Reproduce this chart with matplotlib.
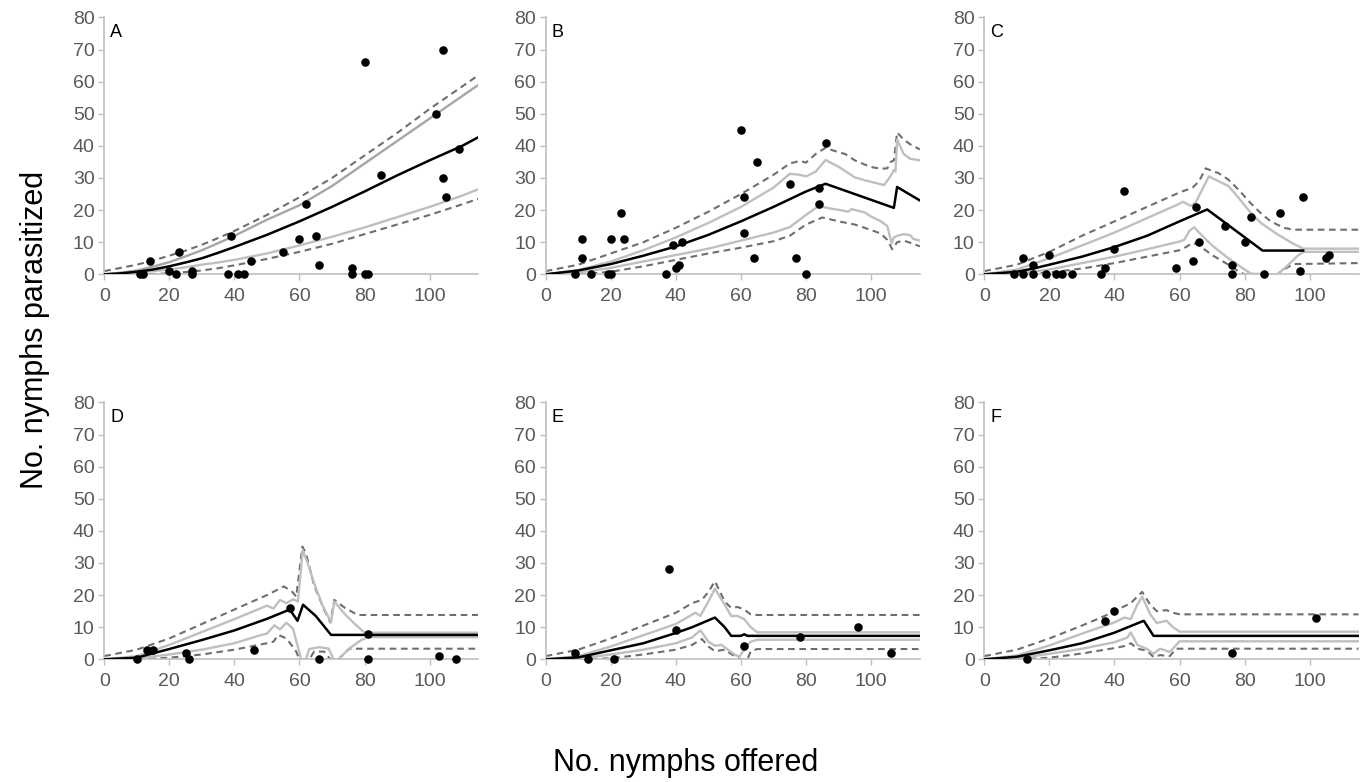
import matplotlib
matplotlib.use("Agg")
import matplotlib.pyplot as plt

# ---------------- Panel A ----------------
A_px = [11, 12, 14, 20, 22, 23, 27, 27, 38, 39, 41, 43, 45, 55, 60, 62, 65, 66, 76, 76, 80, 80, 81, 85, 102, 104, 104, 105, 109]
A_py = [0, 0, 4, 1, 0, 7, 1, 0, 0, 12, 0, 0, 4, 7, 11, 22, 12, 3, 2, 0, 66, 0, 0, 31, 50, 70, 30, 24, 39]
A_cx = [0, 5, 10, 15, 20, 25, 30, 35, 40, 50, 60, 70, 80, 90, 100, 110, 115]
A_mean = [0, 0.3, 0.8, 1.5, 2.5, 3.7, 5, 6.7, 8.5, 12.3, 16.5, 21, 25.8, 30.8, 35.5, 40, 42.7]
A_up_solid = [0, 0.5, 1.2, 2.4, 3.8, 5.6, 7.5, 9.7, 12, 17, 21.5, 27.5, 34.5, 41.5, 48.5, 55.5, 59]
A_lo_solid = [0, 0.2, 0.5, 1, 1.5, 2.2, 3, 3.7, 4.5, 6.5, 9, 11.7, 14.6, 17.8, 21, 24.5, 26.5]
A_up_dash = [1, 2, 3, 4.3, 5.8, 7.4, 9.2, 11.3, 13.5, 18.5, 24, 30, 37, 44, 51.5, 58.5, 62]
A_lo_dash = [0, 0, 0, 0.1, 0.3, 0.7, 1.2, 1.9, 2.8, 4.8, 7, 9.5, 12.5, 15.5, 18.5, 21.8, 23.5]

# ---------------- Panel B ----------------
B_px = [9, 11, 11, 14, 19, 20, 20, 23, 24, 37, 39, 40, 41, 42, 60, 61, 61, 64, 65, 75, 77, 80, 84, 84, 86]
B_py = [0, 11, 5, 0, 0, 0, 11, 19, 11, 0, 9, 2, 3, 10, 45, 24, 13, 5, 35, 28, 5, 0, 27, 22, 41]
B_mean_x = [0, 10, 20, 30, 40, 50, 60, 70, 80, 86, 107, 108, 115]
B_mean_y = [0, 1.2, 3.2, 5.8, 8.7, 12.3, 16.5, 21, 25.8, 28.2, 20.7, 27.2, 23]
B_us_x = [0, 10, 20, 30, 40, 50, 60, 70, 75, 78, 80, 83, 86, 90, 93, 95, 98, 100, 104, 106, 107, 107.5, 108, 110, 112, 115]
B_us_y = [0, 1.3, 4, 7.5, 11.5, 16, 21, 27, 31.3, 31, 30.5, 32, 35.6, 33.5, 31.5, 30.2, 29.3, 28.8, 27.8, 30.6, 32.5, 32, 42, 37.5, 36, 35.5]
B_ud_x = [0, 10, 20, 30, 40, 50, 60, 70, 75, 78, 80, 83, 86, 90, 92, 95, 98, 100, 103, 105, 106, 107, 108, 110, 112, 115]
B_ud_y = [1, 3, 6.5, 10, 14.5, 19.5, 25, 31, 34.5, 35.3, 34.8, 37.5, 39.4, 38, 37.5, 35.5, 34.2, 33.4, 32.9, 33, 35, 35.5, 44.2, 42, 40.5, 38.9]
B_ls_x = [0, 10, 20, 30, 40, 50, 60, 70, 75, 80, 83, 85, 88, 90, 93, 94, 96, 98, 100, 103, 105, 106.3, 107, 108, 110, 112, 113, 115]
B_ls_y = [0, 0.6, 2, 4, 6, 8, 10.5, 13, 14.7, 18.5, 20.7, 21, 20.4, 20.1, 19.5, 20.3, 19.8, 19.3, 18, 16.5, 15, 9.6, 11.5, 12, 12.5, 12.2, 11, 10.5]
B_ld_x = [0, 10, 20, 30, 40, 50, 60, 70, 75, 80, 85, 88, 90, 95, 100, 103, 105, 106.5, 108, 110, 113, 115]
B_ld_y = [0, 0, 0.8, 2.5, 4.5, 6.5, 8.3, 10.3, 12, 15.5, 17.7, 17, 16.5, 15.5, 13.8, 12.7, 10.7, 7.8, 10, 10.5, 9.5, 8.7]

# ---------------- Panel C ----------------
C_px = [9, 12, 12, 15, 15, 19, 20, 22, 24, 27, 36, 37, 40, 43, 59, 64, 65, 66, 74, 76, 76, 80, 82, 86, 91, 97, 98, 105, 106]
C_py = [0, 0, 5, 0, 3, 0, 6, 0, 0, 0, 0, 2, 8, 26, 2, 4, 21, 10, 15, 3, 0, 10, 18, 0, 19, 1, 24, 5, 6]
C_mean_x = [0, 10, 15, 20, 30, 40, 50, 60, 68.5, 85.5, 98]
C_mean_y = [0, 0.8, 1.8, 3, 5.5, 8.5, 12, 16.5, 20.2, 7.4, 7.4]
C_us_x = [0, 10, 20, 30, 40, 50, 60, 61, 63.5, 65, 67, 69, 72, 75, 78, 82, 85, 90, 95, 98, 115]
C_us_y = [0, 1.5, 5, 9, 13, 17.5, 22, 22.6, 21.3, 22.5, 26.5, 30.5, 29, 27.5, 24, 19, 16, 12.5, 9.5, 8, 8]
C_ud_x = [0, 10, 20, 30, 40, 50, 60, 64, 66, 68, 72, 75, 78, 82, 85, 88, 92, 95, 115]
C_ud_y = [1, 3, 7, 12, 16.5, 21, 25.5, 27, 29, 33, 31.5, 29.5, 26.5, 22, 19, 16.5, 14.5, 13.9, 13.9]
C_ls_x = [0, 10, 20, 30, 40, 50, 60, 61.5, 63, 64.5, 66, 70, 75, 80, 82, 88, 90, 93, 96, 98, 115]
C_ls_y = [0, 0.3, 1.5, 3.5, 5.5, 7.8, 10.2, 10.8, 13.5, 14.7, 13, 9, 5, 1.5, 0.2, 0, 0, 2.5, 5.5, 7, 7]
C_ld_x = [0, 10, 20, 30, 40, 50, 60, 62, 64, 66, 70, 75, 78, 80, 90, 92, 95, 115]
C_ld_y = [0, 0, 0.6, 1.8, 3.5, 5.5, 7.5, 8.5, 9.8, 9, 6, 3, 1, 0, 0, 1.5, 3.2, 3.5]

# ---------------- Panel D ----------------
D_px = [10, 13, 15, 25, 26, 46, 57, 66, 81, 81, 103, 108]
D_py = [0, 3, 3, 2, 0, 3, 16, 0, 8, 0, 1, 0]
D_mean_x = [0, 10, 14, 20, 30, 40, 50, 57, 59.4, 61.1, 65, 69.7, 115]
D_mean_y = [0, 0.5, 1.6, 3.2, 6, 9, 12.6, 15.5, 12, 17, 13.5, 7.6, 7.6]
D_us_x = [0, 10, 20, 30, 40, 50, 52, 54, 56, 58, 59.5, 61, 62.5, 64.5, 67, 69.7, 70.7, 74, 77, 80, 115]
D_us_y = [0, 1, 4.5, 8.5, 12.5, 16.7, 15.8, 18.5, 17.5, 18.7, 18, 34, 30, 23.7, 17, 11.5, 18, 14, 11, 8.3, 8.3]
D_ud_x = [0, 10, 20, 30, 40, 50, 55.2, 57.8, 59, 60.9, 62, 64.5, 67.6, 69.5, 70.7, 74, 77.9, 115]
D_ud_y = [1, 3, 6.5, 11, 15.5, 20, 22.7, 21, 19.5, 35.1, 33, 23, 15.4, 11.5, 18.5, 16, 13.8, 13.8]
D_ls_x = [0, 10, 20, 30, 40, 48, 50, 52.3, 54, 56, 58, 59.5, 60.5, 62, 63, 66, 69, 70.5, 72, 75.3, 79, 81, 115]
D_ls_y = [0, 0.3, 1.5, 3, 5, 7.5, 8, 10.6, 9.3, 11.4, 9.5, 4, 0, 0, 3.2, 3.8, 3.3, 0, 0, 3.4, 6, 6.9, 6.9]
D_ld_x = [0, 10, 20, 30, 40, 50, 52, 53.5, 56, 57.5, 59, 60, 63, 64.5, 67.6, 69.5, 72, 73.3, 75.3, 115]
D_ld_y = [0, 0, 0.5, 1.5, 3, 5, 5.5, 7.6, 6.5, 4.5, 2.4, 0, 0, 2.4, 2.4, 0, 0, 1.3, 3.3, 3.3]

# ---------------- Panel E ----------------
E_px = [9, 13, 21, 38, 40, 61, 78, 96, 106]
E_py = [2, 0, 0, 28, 9, 4, 7, 10, 2]
E_mean_x = [0, 10, 20, 30, 40, 45, 52, 55, 57, 60, 61, 62, 115]
E_mean_y = [0, 0.6, 2.8, 5, 8.2, 10, 13, 10, 7.3, 7.3, 7.8, 7.3, 7.3]
E_us_x = [0, 10, 20, 30, 40, 46, 47.5, 50, 52, 55, 57, 59, 61, 63, 65, 115]
E_us_y = [0, 1, 4, 7.5, 11, 14.5, 13.5, 18, 22, 17, 13.5, 13.5, 12.5, 10, 8.4, 8.4]
E_ud_x = [0, 10, 20, 30, 40, 45, 48, 50, 52, 55, 57, 59, 61, 63, 65, 115]
E_ud_y = [1, 3, 6.5, 10.5, 14.5, 17.5, 18.5, 21, 24.3, 18, 16, 16.3, 15.5, 14, 13.8, 13.8]
E_ls_x = [0, 10, 20, 30, 40, 45, 47.5, 50, 52, 54, 56, 58, 59.5, 61, 63, 65, 115]
E_ls_y = [0, 0.2, 1.5, 3, 5, 6.8, 9, 5.5, 4.2, 4.5, 3, 1.5, 0.8, 3, 5.5, 6.1, 6.1]
E_ld_x = [0, 10, 20, 30, 40, 45, 48, 50, 52, 55, 58, 60, 62, 63, 65, 115]
E_ld_y = [0, 0, 0.3, 1.5, 3, 4.5, 6.3, 4, 2.5, 3, 1, 0, 0, 2.5, 3.2, 3.2]

# ---------------- Panel F ----------------
F_px = [13, 37, 40, 76, 102]
F_py = [0, 12, 15, 2, 13]
F_mean_x = [0, 10, 20, 30, 40, 49, 52, 115]
F_mean_y = [0, 0.8, 2.8, 5, 8.3, 12, 7.3, 7.3]
F_us_x = [0, 10, 20, 30, 40, 43, 45, 47, 48.5, 51, 53, 56, 58, 60, 115]
F_us_y = [0, 1.2, 4.3, 8, 11.5, 13, 12.5, 17, 19.5, 14, 11.3, 12, 10, 8.6, 8.6]
F_ud_x = [0, 10, 20, 30, 37, 40, 45, 48.5, 51, 53, 56, 58, 60, 115]
F_ud_y = [1, 3, 6.5, 10.5, 13.5, 15, 17.5, 21, 17, 15, 15.3, 14.5, 14, 14]
F_ls_x = [0, 10, 20, 30, 40, 44, 45, 47, 50, 52, 54, 57, 60, 115]
F_ls_y = [0, 0.3, 1.7, 3.3, 5.3, 6.8, 8.4, 4.5, 3.2, 1.7, 3.3, 2.3, 5.6, 5.6]
F_ld_x = [0, 10, 20, 30, 40, 44, 45, 47, 50, 52, 54, 57, 59, 115]
F_ld_y = [0, 0, 0.5, 1.8, 3.5, 4.3, 5, 3.3, 2.7, 0.7, 1.3, 1, 3.3, 3.3]

panel_labels = ["A", "B", "C", "D", "E", "F"]
x_ticks = [0, 20, 40, 60, 80, 100]
y_ticks = [0, 10, 20, 30, 40, 50, 60, 70, 80]

panels = [
    dict(px=A_px, py=A_py, mean=(A_cx, A_mean), us=(A_cx, A_up_solid), ls=(A_cx, A_lo_solid),
         ud=(A_cx, A_up_dash), ld=(A_cx, A_lo_dash), us_color="#A6A6A6"),
    dict(px=B_px, py=B_py, mean=(B_mean_x, B_mean_y), us=(B_us_x, B_us_y), ls=(B_ls_x, B_ls_y),
         ud=(B_ud_x, B_ud_y), ld=(B_ld_x, B_ld_y)),
    dict(px=C_px, py=C_py, mean=(C_mean_x, C_mean_y), us=(C_us_x, C_us_y), ls=(C_ls_x, C_ls_y),
         ud=(C_ud_x, C_ud_y), ld=(C_ld_x, C_ld_y)),
    dict(px=D_px, py=D_py, mean=(D_mean_x, D_mean_y), us=(D_us_x, D_us_y), ls=(D_ls_x, D_ls_y),
         ud=(D_ud_x, D_ud_y), ld=(D_ld_x, D_ld_y)),
    dict(px=E_px, py=E_py, mean=(E_mean_x, E_mean_y), us=(E_us_x, E_us_y), ls=(E_ls_x, E_ls_y),
         ud=(E_ud_x, E_ud_y), ld=(E_ld_x, E_ld_y)),
    dict(px=F_px, py=F_py, mean=(F_mean_x, F_mean_y), us=(F_us_x, F_us_y), ls=(F_ls_x, F_ls_y),
         ud=(F_ud_x, F_ud_y), ld=(F_ld_x, F_ld_y)),
]

TICK_FONT = ["Liberation Sans Narrow", "Liberation Sans", "DejaVu Sans"]
MAIN_FONT = ["Liberation Sans", "DejaVu Sans"]
SPINE = "#BFBFBF"
LIGHT = "#BFBFBF"
DASH = "#6E6E6E"
TICKCOL = "#595959"

fig = plt.figure(figsize=(13.63, 7.82), dpi=100)

lefts = [0.0765, 0.4004, 0.7222]
bottoms = [0.6492, 0.1569]
W, H = 0.2745, 0.3285

for i, p in enumerate(panels):
    r, c = divmod(i, 3)
    ax = fig.add_axes([lefts[c], bottoms[r], W, H])
    ax.set_xlim(0, 115)
    ax.set_ylim(0, 80)
    ax.plot(*p["ud"], color=DASH, lw=1.5, dashes=(3.2, 2.2), zorder=2)
    ax.plot(*p["ld"], color=DASH, lw=1.5, dashes=(3.2, 2.2), zorder=2)
    ax.plot(*p["us"], color=p.get("us_color", LIGHT), lw=1.7, zorder=3)
    ax.plot(*p["ls"], color=LIGHT, lw=1.7, zorder=3)
    ax.plot(*p["mean"], color="black", lw=1.8, zorder=4)
    ax.scatter(p["px"], p["py"], s=38, color="black", zorder=5, clip_on=False, linewidths=0)

    for s in ["top", "right"]:
        ax.spines[s].set_visible(False)
    for s in ["left", "bottom"]:
        ax.spines[s].set_color(SPINE)
        ax.spines[s].set_linewidth(1.2)
    ax.set_xticks(x_ticks)
    ax.set_yticks(y_ticks)
    ax.tick_params(axis="both", colors=SPINE, length=4, width=1.0, direction="out")
    ax.tick_params(axis="x", pad=6)
    ax.tick_params(axis="y", pad=3)
    for lab in ax.get_xticklabels() + ax.get_yticklabels():
        lab.set_fontfamily(TICK_FONT)
        lab.set_fontsize(14)
        lab.set_color(TICKCOL)
    ax.text(0.016, 0.943, panel_labels[i], transform=ax.transAxes, ha="left", va="center",
            fontsize=13, family=MAIN_FONT, color="black")

fig.text(0.0257, 0.578, "No. nymphs parasitized", rotation=90, ha="center", va="center",
         fontsize=22, family=MAIN_FONT, color="black")
fig.text(0.503, 0.0243, "No. nymphs offered", ha="center", va="center",
         fontsize=22, family=MAIN_FONT, color="black")

fig.savefig("out.png", dpi=100)
